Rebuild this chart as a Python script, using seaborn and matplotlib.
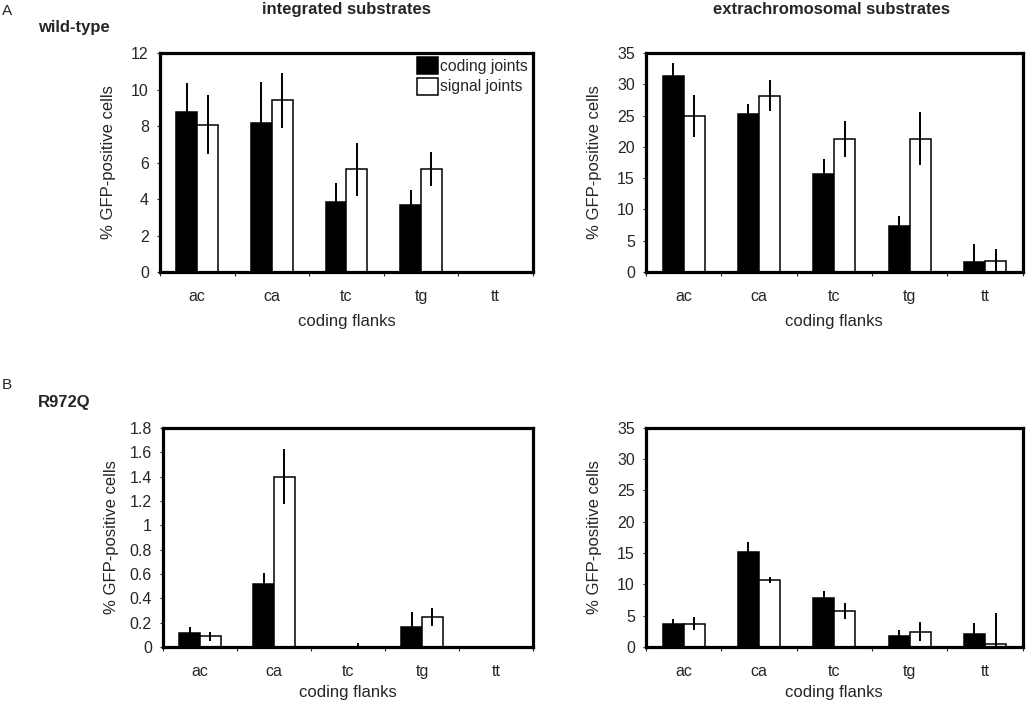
import matplotlib
matplotlib.use("Agg")
import matplotlib.pyplot as plt
import seaborn as sns
import pandas as pd
import numpy as np

# coding flanks on the x axis
flanks = ["ac", "ca", "tc", "tg", "tt"]
series = ["coding joints", "signal joints"]

# A: wild-type, integrated substrates
wt_int_coding = [8.75, 8.18, 3.83, 3.70, 0.0]
wt_int_coding_err = [1.63, 2.25, 1.03, 0.82, 0.0]
wt_int_signal = [8.08, 9.40, 5.64, 5.64, 0.03]
wt_int_signal_err = [1.60, 1.50, 1.45, 0.92, 0.05]

# A: wild-type, extrachromosomal substrates
wt_ext_coding = [31.4, 25.3, 15.7, 7.3, 1.65]
wt_ext_coding_err = [2.0, 1.6, 2.4, 1.6, 2.9]
wt_ext_signal = [24.9, 28.2, 21.3, 21.3, 1.7]
wt_ext_signal_err = [3.4, 2.5, 2.9, 4.25, 2.0]

# B: R972Q, integrated substrates
mut_int_coding = [0.116, 0.52, 0.0, 0.165, 0.0]
mut_int_coding_err = [0.05, 0.085, 0.0, 0.12, 0.0]
mut_int_signal = [0.088, 1.40, 0.0, 0.245, 0.0]
mut_int_signal_err = [0.037, 0.225, 0.035, 0.072, 0.0]

# B: R972Q, extrachromosomal substrates
mut_ext_coding = [3.7, 15.1, 7.9, 1.8, 2.1]
mut_ext_coding_err = [0.8, 1.65, 1.1, 0.9, 1.75]
mut_ext_signal = [3.75, 10.65, 5.7, 2.45, 0.5]
mut_ext_signal_err = [1.05, 0.45, 1.25, 1.5, 4.85]

sns.set_style("white")
plt.rcParams["font.family"] = ["Liberation Sans", "DejaVu Sans"]
plt.rcParams["font.size"] = 11.5


def make_frame(coding, coding_err, signal, signal_err):
    return pd.DataFrame({
        "flank": flanks * 2,
        "joint": [series[0]] * 5 + [series[1]] * 5,
        "value": list(coding) + list(signal),
        "err": list(coding_err) + list(signal_err),
    })


def draw_panel(ax, df, ymax, ystep, legend=False, xlab_y=-0.175):
    sns.barplot(data=df, x="flank", y="value", hue="joint", hue_order=series,
                order=flanks, palette=["black", "white"], edgecolor="black",
                linewidth=1.1, width=0.56, errorbar=None, legend=legend, ax=ax)
    # error bars on top of each bar
    for cont, name in zip(ax.containers, series):
        sub = df[df["joint"] == name].set_index("flank").loc[flanks]
        xs = [b.get_x() + b.get_width() / 2 for b in cont]
        ys = [b.get_height() for b in cont]
        ax.errorbar(xs, ys, yerr=sub["err"].values, fmt="none",
                    ecolor="black", elinewidth=1.4, capsize=0, zorder=4)

    ax.set_xlim(-0.5, 4.5)
    ax.set_ylim(0, ymax)
    ax.set_yticks(np.arange(0, ymax + ystep / 2, ystep))
    ax.yaxis.set_major_formatter(matplotlib.ticker.FuncFormatter(
        lambda v, p: f"{round(v, 2):g}"))
    ax.set_xticks(range(len(flanks)))
    ax.set_xticklabels(flanks)
    ax.set_xticks(np.arange(-0.5, 5, 1), minor=True)
    ax.tick_params(axis="x", which="major", length=0, pad=12, labelsize=11.5)
    ax.tick_params(axis="x", which="minor", length=3, width=0.8,
                   direction="out", bottom=True)
    ax.tick_params(axis="y", length=2, width=0.8, direction="out", left=True,
                   pad=6, labelsize=11.5)
    for s in ax.spines.values():
        s.set_linewidth(2.3)
        s.set_color("black")
        s.set_visible(True)
    ax.set_ylabel("% GFP-positive cells", fontsize=12)
    ax.set_xlabel("coding flanks", fontsize=12)
    ax.yaxis.set_label_coords(-0.118, 0.5)
    ax.xaxis.set_label_coords(0.5, xlab_y)


fig = plt.figure(figsize=(10.32, 7.16), dpi=100)
ax_a1 = fig.add_axes([0.155, 0.620, 0.3614, 0.306])
ax_a2 = fig.add_axes([0.626, 0.620, 0.365, 0.306])
ax_b1 = fig.add_axes([0.158, 0.0964, 0.3585, 0.306])
ax_b2 = fig.add_axes([0.626, 0.0964, 0.365, 0.306])

draw_panel(ax_a1, make_frame(wt_int_coding, wt_int_coding_err,
                             wt_int_signal, wt_int_signal_err), 12, 2,
           legend=True, xlab_y=-0.19)
draw_panel(ax_a2, make_frame(wt_ext_coding, wt_ext_coding_err,
                             wt_ext_signal, wt_ext_signal_err), 35, 5,
           xlab_y=-0.19)
draw_panel(ax_b1, make_frame(mut_int_coding, mut_int_coding_err,
                             mut_int_signal, mut_int_signal_err), 1.8, 0.2)
draw_panel(ax_b2, make_frame(mut_ext_coding, mut_ext_coding_err,
                             mut_ext_signal, mut_ext_signal_err), 35, 5)

handles, labels = ax_a1.get_legend_handles_labels()
ax_a1.legend(handles, labels, loc="upper left", bbox_to_anchor=(0.69, 0.98),
             frameon=False, borderpad=0, borderaxespad=0, handlelength=1.3,
             handleheight=1.3, handletextpad=0.15, labelspacing=0.2, fontsize=11.3)

# panel letters and titles
fig.text(0.002, 0.995, "A", fontsize=11, va="top", ha="left")
fig.text(0.037, 0.972, "wild-type", fontsize=12, fontweight="bold", va="top")
fig.text(0.336, 0.997, "integrated substrates", fontsize=12,
         fontweight="bold", va="top", ha="center")
fig.text(0.806, 0.997, "extrachromosomal substrates", fontsize=12,
         fontweight="bold", va="top", ha="center")
fig.text(0.002, 0.472, "B", fontsize=11, va="top", ha="left")
fig.text(0.037, 0.449, "R972Q", fontsize=12, fontweight="bold", va="top")

fig.savefig("out.png", dpi=100)
